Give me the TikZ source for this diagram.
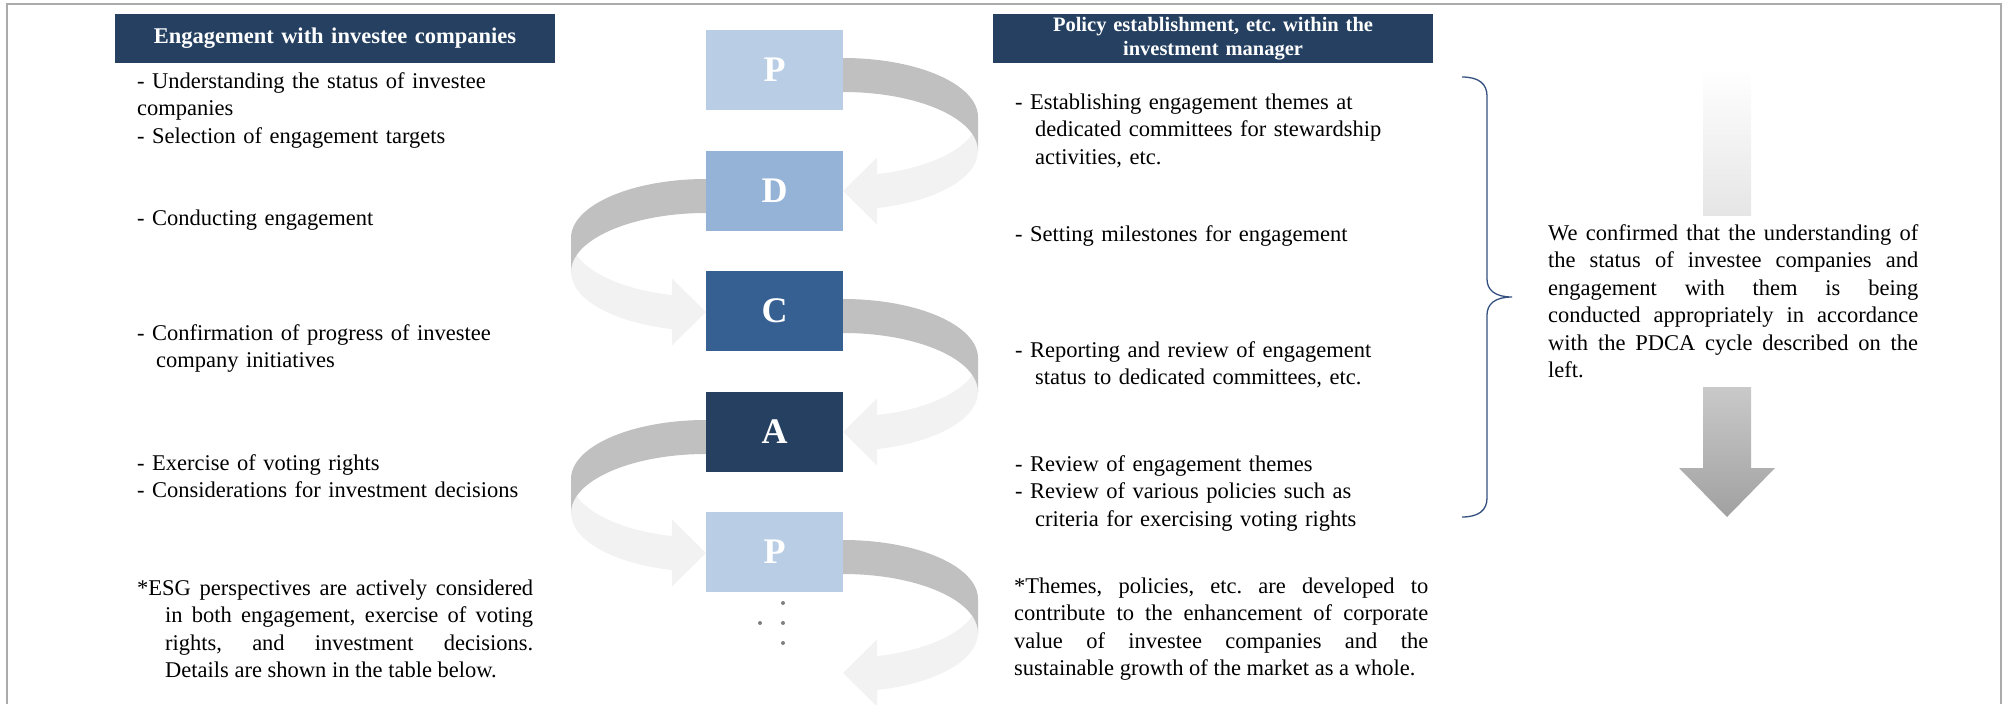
\documentclass[tikz,border=0pt]{standalone}
\usepackage{fontspec}
\setmainfont{Liberation Serif}

\definecolor{navy}{HTML}{254061}
\definecolor{planblue}{HTML}{B9CDE5}
\definecolor{doblue}{HTML}{95B3D7}
\definecolor{checkblue}{HTML}{376092}
\definecolor{ribbondark}{HTML}{C0C0C0}
\definecolor{ribbonlight}{HTML}{F2F2F2}
\definecolor{bracecol}{HTML}{34507F}
\definecolor{framegray}{HTML}{ABABAB}

\tolerance=9999
\hbadness=10000
\frenchspacing

\tikzset{
	ribbon/.pic={
		\fill[ribbonlight] (135,47) arc[start angle=0, end angle=75.4, x radius=135, y radius=59]
			-- (34,87.5) -- (0,121) -- (34,154.5) -- (34,138.1)
			arc[start angle=75.4, end angle=0, x radius=135, y radius=59] -- cycle;
		\fill[ribbondark] (0,-12) arc[start angle=-90, end angle=0, x radius=135, y radius=59]
			-- (135,81) arc[start angle=0, end angle=-90, x radius=135, y radius=59] -- cycle;
	}
}

\begin{document}
\begin{tikzpicture}[x=1pt, y=-1pt,
		every node/.style={inner sep=0pt},
		body/.style={anchor=base west, text width=460pt, align=left, font=\fontsize{22.5}{27.5}\selectfont\frenchspacing},
		note/.style={body, text width=#1, align=justify},
		header/.style={fill=navy, text=white, minimum width=440pt, minimum height=49pt, text width=440pt, align=center},
		pdca/.style={minimum width=137pt, minimum height=80pt, text=white, font=\fontsize{36}{40}\selectfont\bfseries}]
		\useasboundingbox (0,0) rectangle (2004,704);
		\draw[framegray, line width=1.5pt] (7,704) -- (7,4) -- (2001,4) -- (2001,704);

		\node[header, font=\fontsize{22.5}{27}\selectfont\bfseries] (hleft) at (335,38.5) {Engagement with investee companies};
		\node[header, font=\fontsize{20.5}{24}\selectfont\bfseries\frenchspacing] (hright) at (1213,38.5) {Policy establishment, etc. within the\\investment manager};

		\pic at (843,70) {ribbon};
		\pic[xscale=-1] at (706,191) {ribbon};
		\pic at (843,311) {ribbon};
		\pic[xscale=-1] at (706,432) {ribbon};
		\pic at (843,552) {ribbon};

		\node[pdca, fill=planblue] (P1) at (774.5,70) {P};
		\node[pdca, fill=doblue] (D) at (774.5,191) {D};
		\node[pdca, fill=checkblue] (C) at (774.5,311) {C};
		\node[pdca, fill=navy] (A) at (774.5,432) {A};
		\node[pdca, fill=planblue] (P2) at (774.5,552) {P};
		\foreach \p in {(783,603),(760,623),(783,623),(783,643)}
			\fill[black!50] \p circle[radius=2];

		\node[body] (understand) at (137,88) {- Understanding the status of investee\\companies\\- Selection of engagement targets};
		\node[body] (conduct) at (137,225) {- Conducting engagement};
		\node[body] (progress) at (137,340) {- Confirmation of progress of investee\\\hspace*{19pt}company initiatives};
		\node[body] (voting) at (137,470) {- Exercise of voting rights\\- Considerations for investment decisions};
		\node[note=396pt] (esg) at (137,595) {\hangindent=28pt\hangafter=1 *ESG perspectives are actively considered\linebreak in both engagement, exercise of voting\linebreak rights, and investment decisions.\linebreak Details are shown in the table below.\par};

		\node[body] (themes) at (1015,109) {- Establishing engagement themes at\\\hspace*{20pt}dedicated committees for stewardship\\\hspace*{20pt}activities, etc.};
		\node[body] (milestones) at (1015,241) {- Setting milestones for engagement};
		\node[body] (reporting) at (1015,357) {- Reporting and review of engagement\\\hspace*{20pt}status to dedicated committees, etc.};
		\node[body] (review) at (1015,471) {- Review of engagement themes\\- Review of various policies such as\\\hspace*{20pt}criteria for exercising voting rights};
		\node[note=414pt] (policies) at (1014,593) {*Themes, policies, etc. are developed to\linebreak contribute to the enhancement of corporate\linebreak value of investee companies and the\linebreak sustainable growth of the market as a whole.\par};

		\draw[bracecol, line width=1.3pt] (1462,77) .. controls (1479,77) and (1487,84) .. (1487,96) -- (1487,279)
			.. controls (1487,290) and (1495,297) .. (1512,297) .. controls (1495,297) and (1487,304) .. (1487,315)
			-- (1487,498) .. controls (1487,510) and (1479,517) .. (1462,517);

		\shade[top color=white, bottom color=black!10] (1703,68) rectangle (1751,215);
		\node[note=370pt] (confirmed) at (1548,240) {We confirmed that the understanding of\linebreak the status of investee companies and\linebreak engagement with them is being\linebreak conducted appropriately in accordance\linebreak with the PDCA cycle described on the\linebreak left.\par};
		\shade[top color=black!21, bottom color=black!37] (1703,387) -- (1751,387) -- (1751,468) -- (1775,468)
			-- (1727,517) -- (1679,468) -- (1703,468) -- cycle;
	\end{tikzpicture}
\end{document}
